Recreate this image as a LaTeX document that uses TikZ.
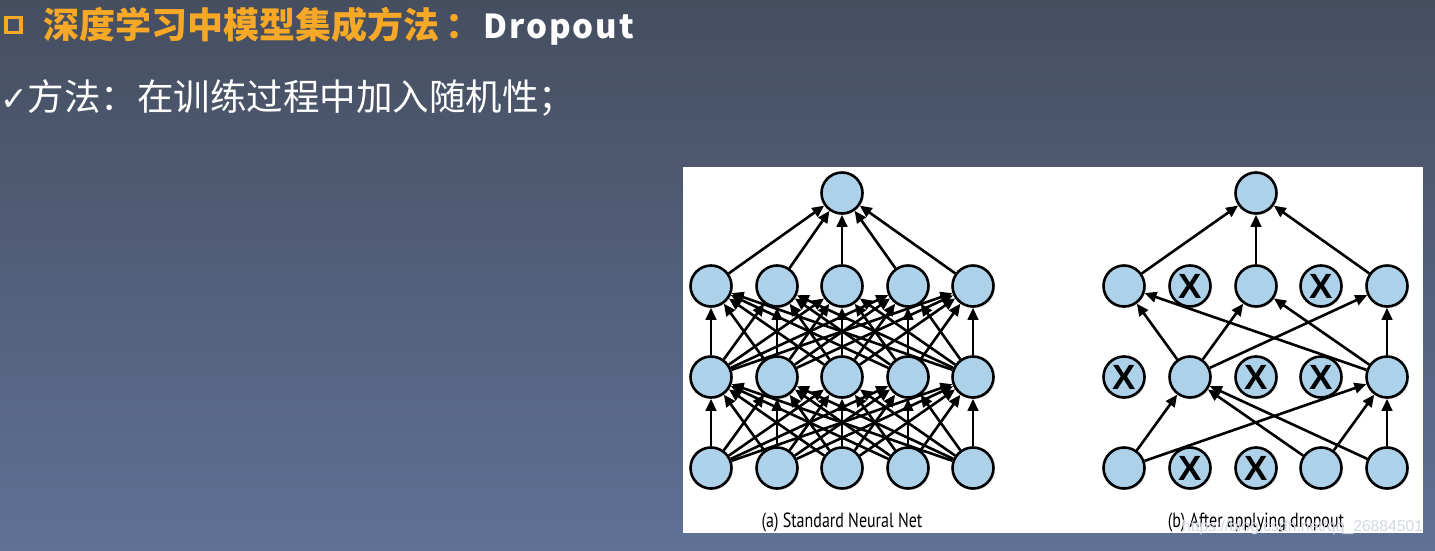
\documentclass[tikz,border=0pt]{standalone}
\usepackage{fontspec}
\setmainfont{Liberation Sans}
\newfontfamily\cjk{Noto Sans CJK SC}
\newfontfamily\symfont{DejaVu Sans}
\newfontfamily\capfont{PT Sans}
\usetikzlibrary{arrows.meta,shadows}
\definecolor{bgtop}{RGB}{70,78,96}
\definecolor{bgbot}{RGB}{95,113,149}
\definecolor{titleorange}{RGB}{247,168,38}
\definecolor{neuronblue}{RGB}{172,209,233}
\definecolor{wmgray}{RGB}{212,216,226}
\tikzset{
  neuron/.style={circle, draw=black, line width=2.6pt, fill=neuronblue,
    minimum size=41pt, inner sep=0pt,
    drop shadow={shadow xshift=1.5pt, shadow yshift=-1.5pt, opacity=0.25}},
  dropped/.style={neuron, font=\fontsize{35}{35}\selectfont\bfseries},
  conn/.style={line width=2.6pt, -{Triangle[length=12pt,width=10.5pt]}},
  caption/.style={anchor=base, font=\capfont\fontsize{20.5}{20.5}\selectfont, inner sep=0pt},
}
\begin{document}
\begin{tikzpicture}[x=1pt,y=-1pt]
\useasboundingbox (0,0) rectangle (1435,551);
\shade[top color=bgtop, bottom color=bgbot] (0,0) rectangle (1435,551);
% title
\node[draw=titleorange, line width=3.5pt, minimum size=15pt, inner sep=0pt] (bullet) at (13.5,25) {};
\node[anchor=west, inner sep=0pt, text=titleorange, font=\cjk\bfseries\fontsize{36}{36}\selectfont] (title) at (43,26)
  {深度学习中模型集成方法\hspace{6pt}：\hspace{2pt}\textcolor{white}{\addfontfeature{LetterSpace=6}\fontsize{33}{33}\selectfont Dropout}};
\node[anchor=west, inner sep=0pt, text=white, font=\cjk\fontsize{36.5}{36.5}\selectfont] (sub) at (0,98)
  {{\symfont\fontsize{33}{33}\selectfont ✓}方法：在训练过程中加入随机性；};
% white panel
\fill[white] (683,167) rectangle (1423,533);
% left network
\node[neuron] (atop) at (842,193) {};
\foreach \i/\x in {1/711,2/777,3/842,4/908,5/973}{
  \node[neuron] (a2\i) at (\x,286) {};
  \node[neuron] (a3\i) at (\x,377) {};
  \node[neuron] (a4\i) at (\x,468) {};
}
\foreach \i in {1,...,5}{
  \draw[conn] (a2\i) -- (atop);
  \foreach \j in {1,...,5}{
    \draw[conn] (a3\i) -- (a2\j);
    \draw[conn] (a4\i) -- (a3\j);
  }
}
% right network
\node[neuron] (btop) at (1256,193) {};
\node[neuron]  (b21) at (1124,286) {};
\node[dropped] (b22) at (1190,286) {X};
\node[neuron]  (b23) at (1256,286) {};
\node[dropped] (b24) at (1321,286) {X};
\node[neuron]  (b25) at (1387,286) {};
\node[dropped] (b31) at (1124,377) {X};
\node[neuron]  (b32) at (1190,377) {};
\node[dropped] (b33) at (1256,377) {X};
\node[dropped] (b34) at (1321,377) {X};
\node[neuron]  (b35) at (1387,377) {};
\node[neuron]  (b41) at (1124,468) {};
\node[dropped] (b42) at (1190,468) {X};
\node[dropped] (b43) at (1256,468) {X};
\node[neuron]  (b44) at (1321,468) {};
\node[neuron]  (b45) at (1387,468) {};
\foreach \i in {1,3,5}{ \draw[conn] (b2\i) -- (btop); }
\foreach \s in {2,5}{ \foreach \t in {1,3,5}{ \draw[conn] (b3\s) -- (b2\t); } }
\foreach \s in {1,4,5}{ \foreach \t in {2,5}{ \draw[conn] (b4\s) -- (b3\t); } }
% captions
\node[caption] (capa) at (842,527) {\scalebox{0.78}[1]{(a) Standard Neural Net}};
\node[caption] (capb) at (1256,527) {\scalebox{0.78}[1]{(b) After applying dropout}};
% watermark
\node[anchor=base west, inner sep=0pt, text=wmgray, font=\fontsize{15.7}{16}\selectfont] (wm) at (1182,531)
  {https://blog.csdn.net/qq\_26884501};
\end{tikzpicture}
\end{document}
